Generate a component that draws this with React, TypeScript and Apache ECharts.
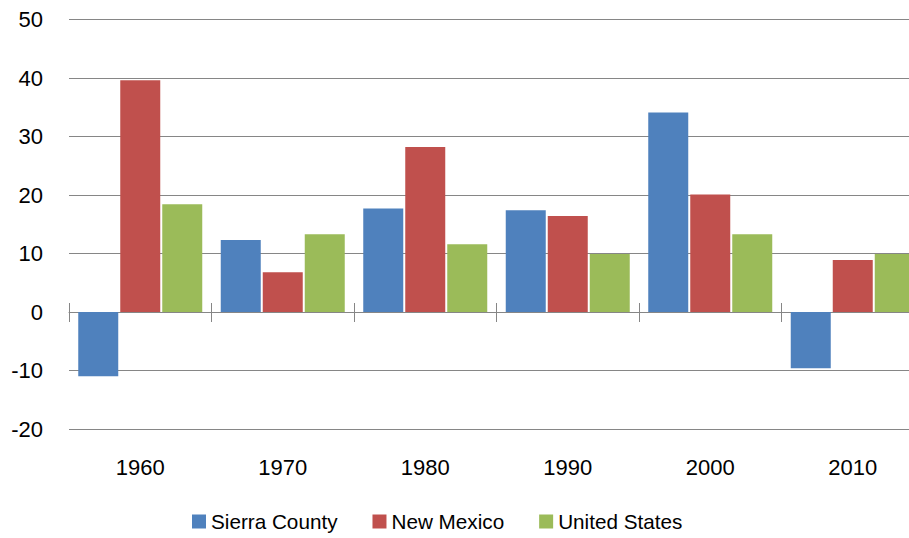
import React, { useEffect, useRef } from "react";
import * as echarts from "echarts";

const categories = ["1960", "1970", "1980", "1990", "2000", "2010"];
const sierraCounty = [-11.0, 12.3, 17.7, 17.4, 34.1, -9.6];
const newMexico = [39.6, 6.8, 28.2, 16.4, 20.1, 8.9];
const unitedStates = [18.4, 13.3, 11.6, 9.9, 13.3, 9.9];
const seriesNames = ["Sierra County", "New Mexico", "United States"];
const colors = ["#4F81BD", "#C0504D", "#9BBB59"];

const FONT = "'Liberation Sans', Arial, sans-serif";

export default function App() {
  const ref = useRef<HTMLDivElement>(null);
  useEffect(() => {
    if (!ref.current) return;
    const chart = echarts.init(ref.current, undefined, { renderer: "svg" });
    const values = [sierraCounty, newMexico, unitedStates];
    chart.setOption({
      animation: false,
      textStyle: { fontFamily: FONT },
      grid: {
        left: 69,
        width: 855,
        top: 19.5,
        height: 409.5,
        containLabel: false,
        outerBoundsMode: "none",
      },
      legend: {
        left: 187,
        top: 506,
        itemWidth: 14,
        itemHeight: 14,
        itemGap: 35,
        icon: "rect",
        textStyle: { fontSize: 20.7, color: "#000", fontFamily: FONT },
        data: seriesNames,
      },
      xAxis: [
        {
          type: "category",
          data: categories,
          position: "bottom",
          axisLine: { show: false, onZero: false },
          axisTick: { show: false },
          axisLabel: { fontSize: 22, color: "#000", margin: 27, fontFamily: FONT },
        },
        {
          type: "category",
          data: categories,
          position: "bottom",
          axisLine: { show: true, onZero: true, onZeroAxisIndex: 0, lineStyle: { color: "#868686", width: 1 } },
          axisTick: { show: true, length: 10, lineStyle: { color: "#868686" } },
          axisLabel: { show: false },
        },
        {
          type: "category",
          data: categories,
          position: "bottom",
          axisLine: { show: false, onZero: true, onZeroAxisIndex: 1 },
          axisTick: { show: true, inside: true, length: 9, lineStyle: { color: "#868686" } },
          axisLabel: { show: false },
        },
      ],
      yAxis: [
        {
          type: "value",
          min: -20,
          max: 50,
          interval: 10,
          axisLine: { show: false },
          axisTick: { show: false },
          axisLabel: { fontSize: 22, color: "#000", margin: 26, fontFamily: FONT },
          splitLine: { lineStyle: { color: "#868686", width: 1 } },
        },
        {
          type: "value",
          min: -20,
          max: 50,
          interval: 10,
          position: "left",
          axisLine: { show: false },
          axisTick: { show: false },
          axisLabel: { show: false },
          splitLine: { show: false },
        },
      ],
      series: seriesNames.map((name, i) => ({
        name,
        type: "bar",
        xAxisIndex: 0,
        yAxisIndex: 0,
        data: values[i],
        barWidth: 40,
        barGap: "5%",
        itemStyle: { color: colors[i] },
      })),
    });
    return () => chart.dispose();
  }, []);
  return <div ref={ref} style={{ width: 909, height: 538, position: "absolute", left: 0, top: 0 }} />;
}
